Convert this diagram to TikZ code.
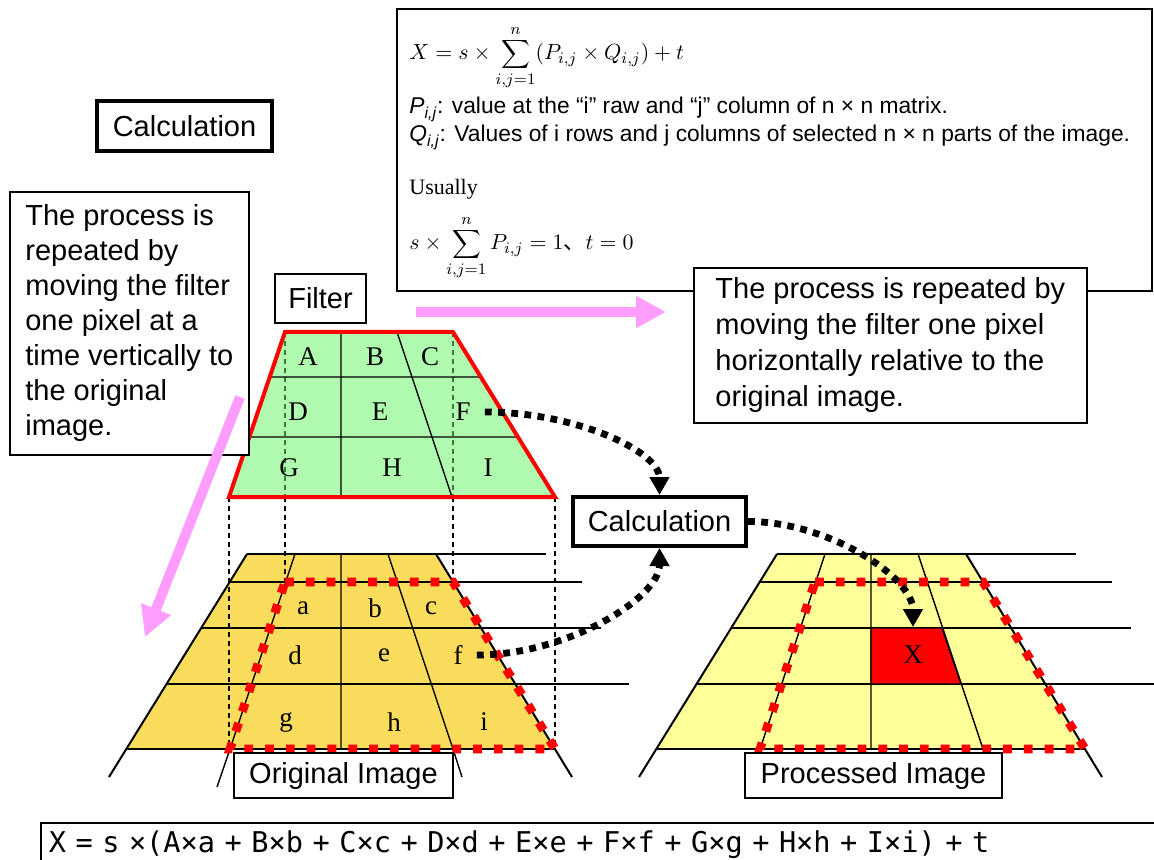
\documentclass[tikz,border=0pt]{standalone}
\usepackage{fontspec}
\setmainfont{Liberation Sans}
\setmonofont{DejaVu Sans Mono}
\newfontfamily\tnr{Liberation Serif}
\newfontfamily\cjk{Noto Sans CJK JP}
\usetikzlibrary{arrows.meta}
\definecolor{filtgreen}{HTML}{AFFAAF}
\definecolor{origgold}{HTML}{F9DC5C}
\definecolor{procyellow}{HTML}{FFFF99}
\definecolor{movepink}{HTML}{FF9CFF}
\definecolor{dashgreen}{HTML}{3A7A3A}

\begin{document}
\begin{tikzpicture}[x=0.5pt, y=-0.5pt,
  font=\fontsize{14.5}{17.5}\selectfont,
  textbox/.style={draw, line width=0.8pt, fill=white, align=left},
  calcbox/.style={draw, line width=2pt, fill=white, minimum width=86.5pt, minimum height=24.5pt},
  labelbox/.style={draw, line width=0.6pt, fill=white, minimum height=22.5pt},
  formline/.style={anchor=base west, inner sep=0pt, font=\fontsize{11.4}{13}\selectfont},
  mathline/.style={anchor=base west, inner sep=0pt, font=\fontsize{10.95}{13}\selectfont},
  gridlbl/.style={font=\tnr\fontsize{13.5}{14}\selectfont, inner sep=1pt},
  gridline/.style={line width=0.7pt},
  edgeline/.style={line width=1pt},
  projline/.style={line width=0.6pt, dash pattern=on 2.5pt off 2pt},
  reddots/.style={draw=red, line width=4.4pt, dash pattern=on 4.4pt off 6pt},
  dotarrow/.style={line width=3.4pt, dash pattern=on 3.4pt off 3.2pt, -{Triangle[length=9pt,width=9.5pt]}},
  pinkarrow/.style={draw=movepink, line width=5pt, -{Triangle[length=15pt,width=15pt]}}]
\useasboundingbox (0,0) rectangle (1154,860);

% original and processed image grids
\foreach \dx/\imgfill in {0/origgold, 530/procyellow} {
  \begin{scope}[shift={(\dx,0)}]
    \fill[\imgfill] (247,554) -- (436,554) -- (555,749) -- (127,749) -- cycle;
    \draw[gridline] (247,554) -- (546,554) (230,582) -- (582,582) (202,628) -- (601,628)
      (167,684) -- (629,684) (127,749) -- (555,749);
    \draw[gridline] (295,554) -- (230,749) (341,554) -- (341,749) (388,554) -- (453,749);
    \draw[edgeline] (109,777) -- (247,554) (436,554) -- (572,777);
  \end{scope}
}
\draw[gridline] (230,749) -- (217,787) (453,749) -- (462,777);
\draw[gridline, fill=red] (871,628) -- (942,628) -- (961,684) -- (871,684) -- cycle;

% projection of the filter
\draw[projline] (229,497) -- (229,749) (285,497) -- (285,582) (453,497) -- (453,582) (555,497) -- (555,749);
\foreach \dx in {0,530}
  \draw[reddots, shift={(\dx,0)}] (285,582) -- (453,582) -- (555,749) -- (230,749) -- cycle;

\foreach \n/\x/\y in {a/303/608, b/375/608, c/431/608, d/295/655, e/384/655, f/458/655, g/286/722, h/394/722, i/484/722}
  \node[gridlbl] (lbl\n) at (\x,\y) {\n};
\node[gridlbl] (lblX) at (913,655) {X};
\coordinate (celltop) at (913,627);

% filter
\coordinate (fTL) at (285,332);
\coordinate (fTR) at (453,332);
\coordinate (fBR) at (555,497);
\coordinate (fBL) at (229,497);
\fill[filtgreen] (fTL) -- (fTR) -- (fBR) -- (fBL) -- cycle;
\draw[dashgreen, projline] (285,332) -- (285,497) (453,332) -- (453,497);
\draw[gridline] (341,332) -- (341,497) (397,332) -- (452,497) (270,377) -- (481,377) (249,437) -- (518,437);
\draw[red, line width=2pt] (fTL) -- (fTR) -- (fBR) -- (fBL) -- cycle;
\foreach \n/\x/\y in {A/308/357, B/375/357, C/430/357, D/298/412, E/380/412, F/463/412, G/289/468, H/392/468, I/488/468}
  \node[gridlbl] (lbl\n) at (\x,\y) {\n};

% boxes and texts
\node[calcbox, minimum width=87.5pt, minimum height=25pt] (calctop) at (184.5,126) {Calculation};
\node[labelbox, minimum width=45.5pt, minimum height=24.5pt] (filterlbl) at (320.5,298.5) {Filter};
\node[labelbox, minimum width=109.5pt] (origlbl) at (343.5,775.5) {Original Image};
\node[labelbox, minimum width=128.5pt] (proclbl) at (873.5,775.5) {Processed Image};
\node[calcbox] (calcmid) at (659.5,521.5) {Calculation};

\node[textbox, anchor=north west, minimum width=119.5pt, minimum height=131.5pt] (vertbox) at (9,191)
  {The process is\\repeated by\\moving the filter\\one pixel at a\\time vertically to\\the original\\image.};

\node[draw, line width=0.8pt, anchor=north west, minimum width=377.5pt, minimum height=141pt] (formbox) at (396,8) {};
\node[mathline] (eqfull) at (409,60) {$X = s\times\displaystyle\sum_{i,j=1}^{n}\bigl(P_{i,j}\times Q_{i,j}\bigr)+t$};
\node[formline] (pdef) at (409,114) {{\itshape P}\textsubscript{\itshape i,j}: value at the “i” raw and “j” column of n × n matrix.};
\node[formline] (qdef) at (409,142) {{\itshape Q}\textsubscript{\itshape i,j}: Values of i rows and j columns of selected n × n parts of the image.};
\node[formline, font=\tnr\fontsize{11}{13}\selectfont] (usual) at (409,195) {Usually};
\node[mathline] (eqnorm) at (409,250) {$s\times\displaystyle\sum_{i,j=1}^{n}P_{i,j}=1${\cjk 、}$t=0$};

\node[textbox, anchor=north west, minimum width=196.5pt, minimum height=77.5pt, font=\fontsize{14.5}{18}\selectfont] (horzbox) at (693,267)
  {The process is repeated by\\moving the filter one pixel\\horizontally relative to the\\original image.};

\node[draw, line width=0.8pt, anchor=north west, text width=570pt, minimum height=22pt, align=left, inner sep=4pt,
  font=\ttfamily\fontsize{14.3}{16}\selectfont] (sumline) at (40,822)
  {X = s ×(A×a + B×b + C×c + D×d + E×e + F×f + G×g + H×h + I×i) + t};

% dotted arrows
\draw[dotarrow] ([xshift=6pt]lblF.east) .. controls +(45pt,0pt) and +(0pt,22pt) .. (calcmid.north);
\draw[dotarrow] ([xshift=6pt]lblf.east) .. controls +(45pt,0pt) and +(0pt,-25pt) .. (calcmid.south);
\draw[dotarrow] (calcmid.east) .. controls +(40pt,0pt) and +(0pt,25pt) .. (celltop);

% moving directions
\coordinate (hmovefrom) at (416,312);
\coordinate (hmoveto) at (666,312);
\coordinate (vmovefrom) at (240,397);
\coordinate (vmoveto) at (145,637);
\draw[pinkarrow] (hmovefrom) -- (hmoveto);
\draw[pinkarrow] (vmovefrom) -- (vmoveto);
\end{tikzpicture}
\end{document}
